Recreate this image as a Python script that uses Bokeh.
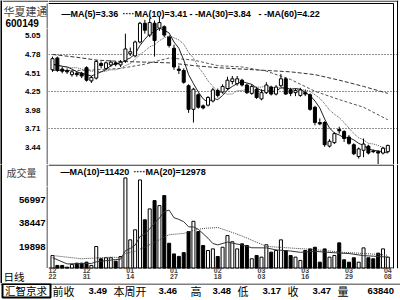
from bokeh.plotting import figure
from bokeh.layouts import column, row
from bokeh.models import (Range1d, FixedTicker, Label, ColumnDataSource, PrintfTickFormatter,
                          Span, Grid, LinearAxis)
from bokeh.embed import file_html
from bokeh.resources import INLINE
from bokeh.core.properties import value

# ---------------- data ----------------
stock_name = "华夏建通"
stock_code = "600149"
period_label = "日线"
volume_title = "成交量"
brand = "汇智京求"

date_ticks = [0, 7, 16, 25, 34, 43, 52, 61, 69]
date_months = ["12", "12", "01", "01", "02", "03", "03", "03", "04"]
date_days = ["22", "31", "14", "27", "18", "03", "16", "29", "08"]

opens = [4.56, 4.73, 4.57, 4.55, 4.49, 4.51, 4.51, 4.59, 4.40, 4.44,
         4.65, 4.58, 4.63, 4.66, 4.63, 4.69, 4.79, 4.76, 4.96, 5.23,
         5.06, 5.23, 5.16, 5.18, 5.03, 4.87, 4.57, 4.55, 4.33, 3.99,
         4.20, 4.04, 4.05, 4.11, 4.26, 4.24, 4.29, 4.39, 4.36, 4.41,
         4.34, 4.22, 4.28, 4.14, 4.23, 4.31, 4.21, 4.33, 4.43, 4.27,
         4.23, 4.19, 4.23, 4.20, 4.02, 3.80, 3.80, 3.46, 3.51, 3.70,
         3.67, 3.59, 3.48, 3.31, 3.40, 3.46, 3.39, 3.38, 3.36, 3.38]
closes = [4.72, 4.55, 4.54, 4.53, 4.53, 4.49, 4.47, 4.41, 4.45, 4.68,
          4.62, 4.66, 4.67, 4.64, 4.67, 4.86, 4.82, 4.96, 5.23, 5.13,
          5.24, 4.98, 5.24, 5.06, 4.91, 4.60, 4.55, 4.38, 3.99, 4.28,
          4.02, 4.01, 4.16, 4.27, 4.19, 4.32, 4.41, 4.43, 4.43, 4.34,
          4.23, 4.32, 4.16, 4.23, 4.34, 4.21, 4.31, 4.43, 4.21, 4.22,
          4.26, 4.27, 4.21, 3.99, 3.80, 3.78, 3.48, 3.53, 3.64, 3.68,
          3.57, 3.50, 3.35, 3.42, 3.49, 3.36, 3.38, 3.36, 3.43, 3.47]
highs = [4.75, 4.75, 4.60, 4.58, 4.56, 4.54, 4.53, 4.61, 4.47, 4.70,
         4.68, 4.68, 4.70, 4.68, 4.70, 5.08, 4.88, 4.98, 5.25, 5.28,
         5.30, 5.27, 5.32, 5.20, 5.05, 4.92, 4.62, 4.58, 4.35, 4.30,
         4.22, 4.06, 4.18, 4.30, 4.29, 4.35, 4.46, 4.47, 4.47, 4.43,
         4.36, 4.35, 4.31, 4.28, 4.38, 4.33, 4.34, 4.50, 4.45, 4.30,
         4.29, 4.30, 4.27, 4.22, 4.04, 3.86, 3.82, 3.56, 3.66, 3.74,
         3.69, 3.62, 3.50, 3.44, 3.57, 3.48, 3.41, 3.40, 3.45, 3.48]
lows = [4.53, 4.53, 4.51, 4.50, 4.46, 4.46, 4.44, 4.39, 4.37, 4.42,
        4.58, 4.56, 4.60, 4.61, 4.60, 4.66, 4.76, 4.74, 4.94, 5.08,
        5.03, 4.75, 5.12, 5.03, 4.88, 4.56, 4.50, 4.36, 3.94, 3.80,
        4.00, 3.99, 4.03, 4.09, 4.16, 4.22, 4.27, 4.35, 4.33, 4.32,
        4.21, 4.20, 4.14, 4.12, 4.21, 4.19, 4.19, 4.31, 4.20, 4.18,
        4.18, 4.17, 4.18, 3.97, 3.76, 3.76, 3.45, 3.44, 3.49, 3.64,
        3.52, 3.48, 3.33, 3.28, 3.30, 3.34, 3.36, 3.17, 3.34, 3.36]
volumes = [12700, 4800, 4800, 3400, 5600, 6600, 6600, 7400, 4800, 19900,
           10100, 10900, 10900, 8200, 11900, 74600, 25200, 33200, 73000, 41200,
           49900, 56500, 52500, 60500, 22500, 14000, 12000, 15000, 31800, 40000,
           31800, 20700, 16700, 18000, 11900, 19300, 28600, 23700, 18000, 22000,
           20700, 10100, 12700, 11400, 21300, 15400, 16700, 25200, 16700, 12700,
           11400, 8800, 16700, 18000, 19300, 7400, 18000, 11400, 12700, 22800,
           9300, 7400, 10900, 7400, 18800, 10900, 10100, 14600, 18000, 11400]

ma5 = [4.64, 4.63, 4.61, 4.60, 4.57, 4.53, 4.51, 4.49, 4.47, 4.50,
       4.53, 4.56, 4.62, 4.65, 4.65, 4.70, 4.73, 4.79, 4.91, 5.00,
       5.08, 5.11, 5.16, 5.13, 5.09, 4.96, 4.87, 4.70, 4.49, 4.36,
       4.24, 4.14, 4.09, 4.15, 4.13, 4.19, 4.27, 4.32, 4.36, 4.39,
       4.37, 4.35, 4.30, 4.26, 4.26, 4.25, 4.25, 4.30, 4.30, 4.28,
       4.29, 4.28, 4.23, 4.19, 4.11, 4.01, 3.85, 3.72, 3.65, 3.62,
       3.58, 3.58, 3.55, 3.50, 3.47, 3.42, 3.40, 3.39, 3.38, 3.36]
ma10 = [4.63, 4.62, 4.61, 4.60, 4.59, 4.59, 4.57, 4.55, 4.54, 4.54,
        4.53, 4.54, 4.56, 4.56, 4.58, 4.62, 4.65, 4.71, 4.78, 4.83,
        4.89, 4.92, 4.98, 5.02, 5.05, 5.02, 4.99, 4.93, 4.81, 4.73,
        4.60, 4.51, 4.40, 4.32, 4.25, 4.22, 4.21, 4.21, 4.26, 4.26,
        4.28, 4.31, 4.31, 4.31, 4.33, 4.31, 4.30, 4.30, 4.28, 4.27,
        4.27, 4.27, 4.27, 4.25, 4.20, 4.15, 4.07, 3.98, 3.92, 3.87,
        3.80, 3.72, 3.64, 3.58, 3.55, 3.50, 3.49, 3.47, 3.44, 3.41]
ma_long_idx = [0, 5, 9, 14, 19, 24, 29, 34, 39, 44, 49, 54, 59, 64, 69]
ma30 = [4.55, 4.55, 4.56, 4.58, 4.64, 4.73, 4.70, 4.62, 4.60, 4.54, 4.42, 4.25, 4.13, 4.02, 3.84]
ma60 = [4.78, 4.74, 4.70, 4.68, 4.67, 4.66, 4.62, 4.59, 4.57, 4.55, 4.53, 4.49, 4.41, 4.32, 4.22]

vma10_idx = [0, 3, 8, 9, 13, 14, 15, 16, 17, 18, 19, 20, 21, 22, 23, 24, 25, 26, 27, 28, 29,
             30, 31, 32, 33, 34, 36, 39, 41, 44, 46, 49, 51, 54, 56, 59, 61, 64, 66, 69]
vma10 = [11000, 6000, 6400, 7660, 9500, 9730, 16530, 18390, 20970, 27790, 29920,
         33900, 38460, 42620, 47850, 48910, 42850, 41530, 39710, 35590, 35470,
         33660, 30080, 26500, 22250, 21190, 23380, 21070, 18900, 18780, 17200,
         16290, 15230, 16090, 15420, 14650, 14300, 12610, 12170, 11420]
vma20_idx = [0, 6, 12, 14, 15, 17, 19, 21, 24, 27, 29, 31, 34, 36, 39, 44, 49, 54, 59, 64, 69]
vma20 = [12700, 10100, 11400, 11000, 14300, 16000, 19500, 23235, 29320, 30340, 32700,
         34270, 35050, 32455, 28270, 19985, 18680, 17435, 15470, 14350, 12978]

price_ticks = [5.05, 4.78, 4.51, 4.25, 3.98, 3.71, 3.44]
price_grid = [4.78, 4.25, 3.71]
volume_ticks = [19898, 38447, 56997]

ma_names = ["MA(5)", "MA(10)", "MA(30)", "MA(60)"]
ma_last = [3.36, 3.41, 3.84, 4.22]
vma_names = ["MA(10)", "MA(20)"]
vma_last = [11420, 12978]

status_names = ["前收", "本周开", "高", "低", "收", "量"]
status_values = ["3.49", "3.46", "3.48", "3.17", "3.47", "63840"]

# ---------------- geometry / styling ----------------
CJK = "Noto Sans CJK SC"
NUM = "Liberation Sans"
N = len(closes)
idx = list(range(N))
is_up = [c >= o for o, c in zip(opens, closes)]
PX = 4.86                       # pixels per candle
X0 = -4.0 / PX
XR = Range1d(X0, X0 + 350 / PX)
X_IN = X0 + 345 / PX            # inner right frame line
X_OUT = X0 + 349 / PX           # outer right frame line
BW = 0.62
PPU = 69.4                      # pixels per price unit
P_LO = 3.195
P_HI = P_LO + 164 / PPU
VPU = 0.0012534                 # pixels per volume unit
VFH = 104                       # volume frame height (canvas 164..268)
V_LO = 19898 - (268 - 246) / VPU
V_HI = V_LO + VFH / VPU
LW = 46                         # width of the label column (after a 2px black edge)

COMMON = dict(output_backend="svg", toolbar_location=None, frame_align=False,
              background_fill_color="white", border_fill_color="white")


def sel(arr, flag):
    return [a for a, u in zip(arr, is_up) if u == flag]


def blank(w, h):
    f = figure(width=w, height=h, x_range=Range1d(0, w), y_range=Range1d(0, h),
               x_axis_location=None, y_axis_location=None, min_border=0, **COMMON)
    f.outline_line_color = None
    f.grid.visible = False
    return f


def edge(h):
    f = figure(width=2, height=h, x_range=Range1d(0, 2), y_range=Range1d(0, h),
               x_axis_location=None, y_axis_location=None, min_border=0,
               output_backend="svg", toolbar_location=None, frame_align=False,
               background_fill_color="black", border_fill_color="black")
    f.outline_line_color = None
    f.grid.visible = False
    return f


def axis_fig(h, lo, hi, ticks, fmt, size, standoff):
    f = figure(width=LW, height=h, x_range=Range1d(0, 1), y_range=Range1d(lo, hi),
               x_axis_location=None, min_border_left=LW - 1, min_border_right=0,
               min_border_top=0, min_border_bottom=0, **COMMON)
    f.outline_line_color = None
    f.grid.visible = False
    ax = f.yaxis[0]
    ax.ticker = FixedTicker(ticks=ticks)
    ax.formatter = PrintfTickFormatter(format=fmt)
    ax.major_label_text_font = NUM
    ax.major_label_text_font_style = "bold"
    ax.major_label_text_font_size = size
    ax.major_label_text_color = "black"
    ax.major_label_standoff = standoff
    ax.major_tick_out = 0
    ax.major_tick_in = 0
    ax.minor_tick_out = 0
    ax.minor_tick_in = 0
    ax.axis_line_color = "#888888"
    ax.axis_line_width = 2
    return f


# ---------------- price panel ----------------
P = figure(frame_width=350, frame_height=164, x_range=XR, y_range=Range1d(P_LO, P_HI),
           x_axis_location=None, y_axis_location=None,
           min_border_left=0, min_border_right=2, min_border_top=0, min_border_bottom=0, **COMMON)
P.outline_line_color = None
P.grid.visible = False
P.add_layout(Grid(dimension=1, ticker=FixedTicker(ticks=price_grid), grid_line_dash="1 2",
                  grid_line_color="#222222"))

P.line(ma_long_idx, ma60, line_color="#333333", line_width=1, line_dash="4 2")
P.line(ma_long_idx, ma30, line_color="#555555", line_width=1, line_dash="3 2")
P.line(idx, ma10, line_color="#555555", line_width=1, line_dash="1 1")
P.line(idx, ma5, line_color="#222222", line_width=1)

wick_src = ColumnDataSource(dict(x=idx, lo=lows, hi=highs))
P.segment(x0="x", y0="lo", x1="x", y1="hi", source=wick_src, line_color="black", line_width=1)
up_src = ColumnDataSource(dict(x=sel(idx, True), o=sel(opens, True), c=sel(closes, True)))
dn_src = ColumnDataSource(dict(x=sel(idx, False), o=sel(opens, False), c=sel(closes, False)))
P.vbar(x="x", width=BW, bottom="o", top="c", source=up_src,
       fill_color="white", line_color="black", line_width=1)
P.vbar(x="x", width=BW, bottom="c", top="o", source=dn_src,
       fill_color="black", line_color="black", line_width=1)

# frame decorations (double border on top and right)
y_top_in = P_HI - 3 / PPU
P.segment(x0=[XR.start], y0=[y_top_in], x1=[X_IN], y1=[y_top_in], line_color="black", line_width=1)
P.segment(x0=[X_IN], y0=[P_LO], x1=[X_IN], y1=[y_top_in], line_color="black", line_width=1)
P.add_layout(Span(location=X_OUT, dimension="height", line_color="black", line_width=1))
P.add_layout(Span(location=P_HI - 0.6 / PPU, dimension="width", line_color="black", line_width=1))

prefixes = ["\u2014", "\u00b7\u00b7\u00b7\u00b7", "- -", "- -"]
leg_x = [13, 74, 141, 210]
for pre, nm, v, lx in zip(prefixes, ma_names, ma_last, leg_x):
    P.add_layout(Label(x=lx, y=150.5, x_units="screen", y_units="screen",
                       text=f"{pre}{nm}={v:.2f}", text_font=NUM, text_font_style="bold",
                       text_font_size="9px", text_baseline="middle", text_color="black"))

# left column of the price panel
N1 = blank(LW, 28)
N1.text(x=[1], y=[18], text=[stock_name], text_font=value(CJK), text_font_size="11px",
        text_baseline="middle", text_color="#444444")
N1.text(x=[3], y=[5.5], text=[stock_code], text_font=value(NUM), text_font_style="bold",
        text_font_size="10px", text_baseline="middle", text_color="black")
N1.segment(x0=[LW - 1], y0=[0], x1=[LW - 1], y1=[25], line_color="#888888", line_width=2)
N1.segment(x0=[0], y0=[27.4], x1=[LW], y1=[27.4], line_color="black", line_width=1)
A1 = axis_fig(136, P_LO, P_LO + 136 / PPU, price_ticks, "%.2f", "8px", 7)

# ---------------- volume panel ----------------
V = figure(frame_width=350, frame_height=VFH, x_range=XR, y_range=Range1d(V_LO, V_HI),
           y_axis_location=None,
           min_border_left=0, min_border_right=2, min_border_top=0, min_border_bottom=0, **COMMON)
V.outline_line_color = None
V.grid.visible = False


def style_date_axis(ax, labels, standoff):
    ax.ticker = FixedTicker(ticks=date_ticks)
    ax.major_label_overrides = {t: l for t, l in zip(date_ticks, labels)}
    ax.major_label_text_font = NUM
    ax.major_label_text_font_style = "bold"
    ax.major_label_text_font_size = "7px"
    ax.major_label_standoff = standoff
    ax.major_tick_out = 0
    ax.major_tick_in = 0
    ax.minor_tick_out = 0
    ax.minor_tick_in = 0
    ax.axis_line_color = None


style_date_axis(V.xaxis[0], date_months, -1)
day_axis = LinearAxis()
style_date_axis(day_axis, date_days, -2)
V.add_layout(day_axis, "below")

vup = ColumnDataSource(dict(x=sel(idx, True), v=sel(volumes, True)))
vdn = ColumnDataSource(dict(x=sel(idx, False), v=sel(volumes, False)))
V.vbar(x="x", width=BW, bottom=0, top="v", source=vup,
       fill_color="white", line_color="black", line_width=1)
V.vbar(x="x", width=BW, bottom=0, top="v", source=vdn,
       fill_color="black", line_color="black", line_width=1)
V.line(vma10_idx, vma10, line_color="#333333", line_width=1)
V.line(vma20_idx, vma20, line_color="#444444", line_width=1, line_dash="1 1")

V.segment(x0=[XR.start], y0=[V_HI - 0.6 / VPU], x1=[X_IN], y1=[V_HI - 0.6 / VPU],
          line_color="black", line_width=1)
V.segment(x0=[XR.start], y0=[V_LO + 0.5 / VPU], x1=[X_IN], y1=[V_LO + 0.5 / VPU],
          line_color="black", line_width=1)
V.segment(x0=[X_IN], y0=[V_LO], x1=[X_IN], y1=[V_HI], line_color="black", line_width=1)
V.add_layout(Span(location=X_OUT, dimension="height", line_color="black", line_width=1))

vprefix = ["\u2014", "\u00b7\u00b7\u00b7\u00b7"]
vleg_x = [12, 85]
for pre, nm, v, lx in zip(vprefix, vma_names, vma_last, vleg_x):
    V.add_layout(Label(x=lx, y=VFH - 7.5, x_units="screen", y_units="screen",
                       text=f"{pre}{nm}={v}", text_font=NUM, text_font_style="bold",
                       text_font_size="9px", text_baseline="middle", text_color="black"))

N2 = blank(LW, 22)
N2.text(x=[4], y=[14.5], text=[volume_title], text_font=value(CJK), text_font_size="10px",
        text_baseline="middle", text_color="#444444")
N2.segment(x0=[LW - 1], y0=[0], x1=[LW - 1], y1=[22], line_color="#888888", line_width=2)
A2 = axis_fig(VFH - 22, V_LO, V_LO + (VFH - 22) / VPU, volume_ticks, "%d", "9.5px", 2)
D2 = blank(LW, 15)
D2.text(x=[1], y=[7.5], text=[period_label], text_font=value(CJK), text_font_size="10.5px",
        text_baseline="middle", text_color="black")

# ---------------- status bar ----------------
S = blank(400, 17)
S.segment(x0=[0], y0=[16.5], x1=[400], y1=[16.5], line_color="black", line_width=1)
S.quad(left=[2], right=[50], bottom=[3], top=[16.5], fill_color=None, line_color="black", line_width=2)
S.text(x=[4.5], y=[10], text=[brand], text_font=value(CJK), text_font_size="10.5px",
       text_baseline="middle", text_color="black")
name_x = [52, 113, 190, 237, 287, 337]
val_x = [88, 158, 212, 262, 312, 367]
S.text(x=name_x, y=[10] * len(name_x), text=status_names, text_font=value(CJK),
       text_font_size="11px", text_baseline="middle", text_color="black")
S.text(x=val_x, y=[10] * len(val_x), text=status_values, text_font=value(NUM),
       text_font_style="bold", text_font_size="9.5px", text_baseline="middle", text_color="black")

layout = column(
    row(edge(164), column(N1, A1, spacing=0), P, spacing=0),
    row(edge(119), column(N2, A2, D2, spacing=0), V, spacing=0),
    S,
    spacing=0,
)
open("out.html", "w").write(file_html(layout, INLINE))
